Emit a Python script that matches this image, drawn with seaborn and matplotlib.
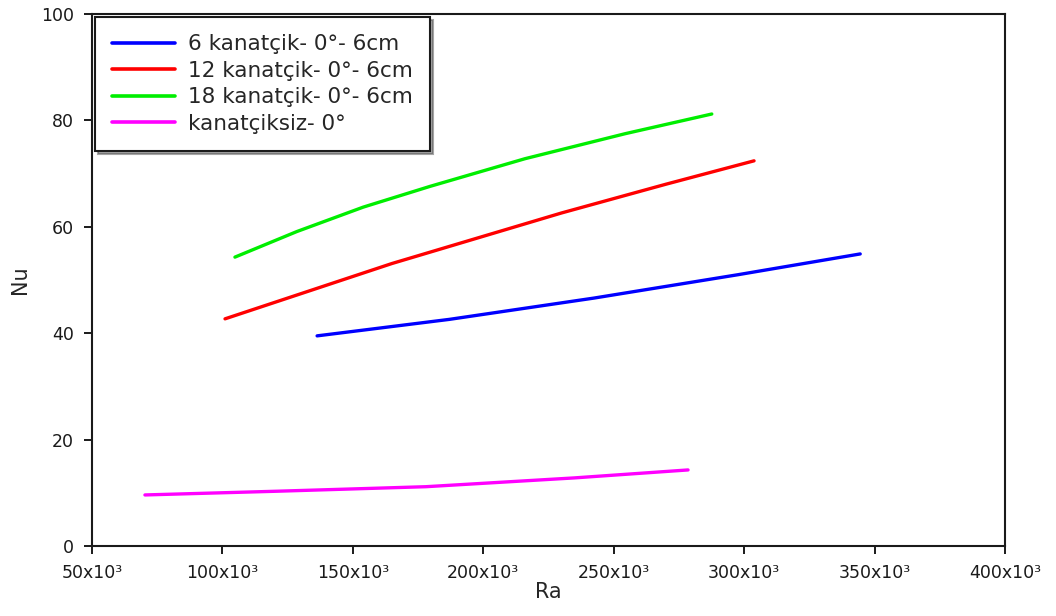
import matplotlib
matplotlib.use("Agg")
import matplotlib.pyplot as plt
import seaborn as sns
import pandas as pd

labels = ["6 kanatçik- 0°- 6cm", "12 kanatçik- 0°- 6cm", "18 kanatçik- 0°- 6cm", "kanatçiksiz- 0°"]
colors = ["#0000ff", "#ff0000", "#00ee00", "#ff00ff"]

ra_6 = [136300, 187000, 242400, 297700, 344500]
nu_6 = [39.5, 42.6, 46.6, 51.0, 54.9]
ra_12 = [101000, 165000, 230000, 270000, 303800]
nu_12 = [42.7, 53.1, 62.6, 68.0, 72.4]
ra_18 = [104800, 128500, 154000, 179600, 216000, 254400, 287600]
nu_18 = [54.3, 59.1, 63.7, 67.6, 72.8, 77.5, 81.2]
ra_0 = [70300, 121000, 178000, 234800, 278500]
nu_0 = [9.6, 10.3, 11.15, 12.8, 14.3]

x_ticks = [50000, 100000, 150000, 200000, 250000, 300000, 350000, 400000]
x_ticklabels = ["50x10³", "100x10³", "150x10³", "200x10³", "250x10³", "300x10³", "350x10³", "400x10³"]
y_ticks = [0, 20, 40, 60, 80, 100]

frames = []
for lab, xs, ys in zip(labels, [ra_6, ra_12, ra_18, ra_0], [nu_6, nu_12, nu_18, nu_0]):
    frames.append(pd.DataFrame({"Ra": xs, "Nu": ys, "series": lab}))
df = pd.concat(frames, ignore_index=True)

sns.set_style("ticks")
plt.rcParams['font.family'] = ['DejaVu Sans']

fig = plt.figure(figsize=(10.56, 6.16), dpi=100)
ax = fig.add_axes([0.0871, 0.1136, 0.8646, 0.8637])
sns.lineplot(data=df, x="Ra", y="Nu", hue="series", hue_order=labels,
             palette=dict(zip(labels, colors)), linewidth=2.4, ax=ax, sort=True,
             estimator=None)

ax.set_xlim(50000, 400000)
ax.set_ylim(0, 100)
ax.set_xticks(x_ticks)
ax.set_xticklabels(x_ticklabels, fontsize=12.5, color="#1a1a1a")
ax.set_yticks(y_ticks)
ax.set_yticklabels([str(v) for v in y_ticks], fontsize=12.5, color="#1a1a1a")
ax.tick_params(direction="out", length=6, width=1.4, colors="#1a1a1a", pad=7)
for s in ax.spines.values():
    s.set_visible(True)
    s.set_color("#1a1a1a")
    s.set_linewidth(1.5)
ax.set_xlabel("Ra", fontsize=15, labelpad=0)
ax.set_ylabel("Nu", fontsize=15, labelpad=8)

leg = ax.legend(loc="upper left", fontsize=15.5, frameon=True, fancybox=False,
                shadow=True, handlelength=2.9, handletextpad=0.6,
                borderpad=0.8, labelspacing=0.3, borderaxespad=0.15)
leg.get_frame().set_edgecolor("#1a1a1a")
leg.get_frame().set_linewidth(1.5)
leg.set_title(None)
for line in leg.get_lines():
    line.set_linewidth(2.6)

fig.savefig("out.png", dpi=100)
